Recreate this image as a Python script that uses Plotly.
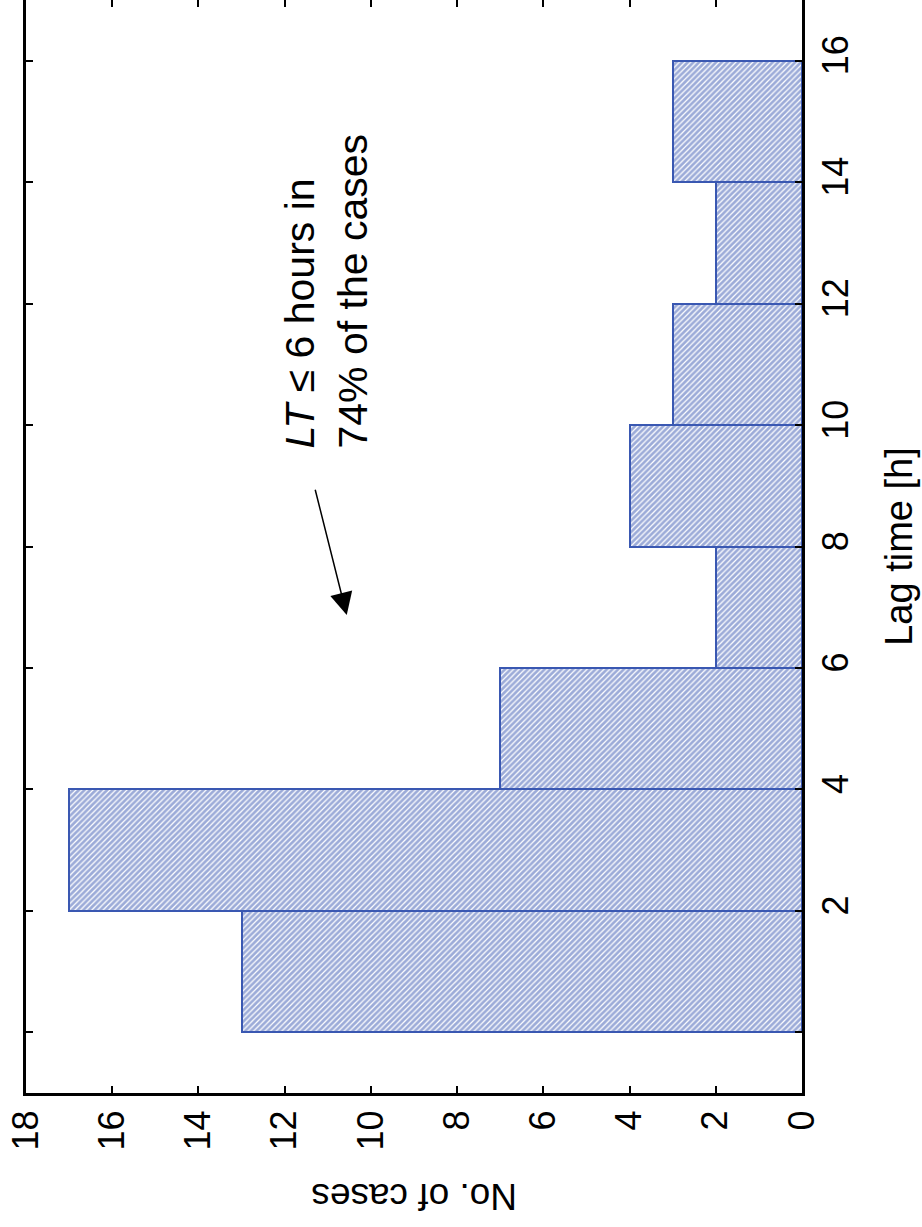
import plotly.graph_objects as go

# Data
bin_centers = [1, 3, 5, 7, 9, 11, 13, 15]   # lag time bins [h] (0-2, 2-4, ..., 14-16)
counts = [13, 17, 7, 2, 4, 3, 2, 3]          # No. of cases
lag_ticks = [0, 2, 4, 6, 8, 10, 12, 14, 16]
lag_ticktext = ["", "2", "4", "6", "8", "10", "12", "14", "16"]
count_ticks = [0, 2, 4, 6, 8, 10, 12, 14, 16, 18]

FONT = "Liberation Sans, Arial, sans-serif"
BLUE = "#3A58B2"

fig = go.Figure()
fig.add_trace(go.Bar(
    y=bin_centers, x=counts, orientation="h", width=2,
    marker=dict(color="white", line=dict(color=BLUE, width=2),
                pattern=dict(shape="/", fgcolor=BLUE, bgcolor="white", size=4, solidity=0.7)),
    showlegend=False,
))

fig.update_layout(
    width=922, height=1227,
    margin=dict(l=26, r=120, t=0, b=134),
    paper_bgcolor="white", plot_bgcolor="white",
    font=dict(family=FONT, color="black", size=36),
    bargap=0,
)
fig.update_xaxes(
    range=[18, 0], tickvals=count_ticks, tickangle=-90, automargin=False,
    showline=True, linecolor="black", linewidth=3, mirror="ticks",
    ticks="inside", ticklen=7, tickwidth=2, tickcolor="black",
    showgrid=False, zeroline=False, tickfont=dict(size=36),
)
fig.update_yaxes(
    range=[-1, 17], side="right", tickvals=lag_ticks, ticktext=lag_ticktext, tickangle=-90,
    automargin=False,
    showline=True, linecolor="black", linewidth=3, mirror="ticks",
    ticks="inside", ticklen=7, tickwidth=2, tickcolor="black",
    showgrid=False, zeroline=False, tickfont=dict(size=36),
    title=dict(text="Lag time [h]", font=dict(size=38), standoff=31),
)

# x-axis title, upside down (rotated figure)
fig.add_annotation(
    text="No. of cases", xref="paper", yref="paper", x=0.5, y=0,
    yshift=-104, showarrow=False, textangle=180, font=dict(size=37),
    xanchor="center", yanchor="middle",
)

# annotation text
fig.add_annotation(
    text="<i>LT</i> ≤ 6 hours in<br>74% of the cases",
    x=11.04, y=12.2, xref="x", yref="y", showarrow=False, textangle=-90,
    align="left", font=dict(size=41), xanchor="center", yanchor="middle",
)
# arrow
fig.add_annotation(
    text="", x=10.56, y=6.87, ax=11.3, ay=8.96, xref="x", yref="y",
    axref="x", ayref="y", showarrow=True, arrowhead=2, arrowsize=3,
    arrowwidth=1.5, arrowcolor="black",
)

fig.write_html("out.html", config={"displayModeBar": False},
               post_script="document.body.style.margin='0px';")
